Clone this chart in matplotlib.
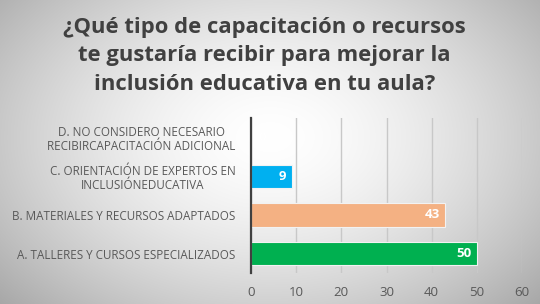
import numpy as np
import matplotlib
matplotlib.use("Agg")
import matplotlib.pyplot as plt

categories = ["A. TALLERES Y CURSOS ESPECIALIZADOS",
              "B. MATERIALES Y RECURSOS ADAPTADOS",
              "C. ORIENTACIÓN DE EXPERTOS EN\nINCLUSIÓNEDUCATIVA",
              "D. NO CONSIDERO NECESARIO\nRECIBIRCAPACITACIÓN ADICIONAL"]
values = [50, 43, 9, 0]
colors = ["#00B050", "#F4B183", "#00B0F0", "#A5A5A5"]
xticks = [0, 10, 20, 30, 40, 50, 60]
title = "¿Qué tipo de capacitación o recursos\nte gustaría recibir para mejorar la\ninclusión educativa en tu aula?"

plt.rcParams['font.family'] = ['Open Sans', 'DejaVu Sans']

fig = plt.figure(figsize=(5.4, 3.04), dpi=100)

# radial gradient background
bg = fig.add_axes([0, 0, 1, 1], zorder=-10)
h, w = 304, 540
yy, xx = np.mgrid[0:h, 0:w]
r = np.sqrt(((xx - w * 0.5) / (w * 0.62)) ** 2 + ((yy - h * 0.45) / (h * 0.75)) ** 2)
val = 1.0 - 0.30 * np.clip(r, 0, 1.2) ** 1.6
img = np.dstack([val, val, val])
bg.imshow(img, aspect='auto', extent=[0, 1, 0, 1], origin='upper')
bg.axis('off')

ax = fig.add_axes([251 / 540, 1 - 273 / 304, (522 - 251) / 540, (273 - 118) / 304])
ax.patch.set_alpha(0)
y = np.arange(len(categories))
bars = ax.barh(y, values, height=0.6, color=colors, edgecolor='#f2f2f2', linewidth=0.8, zorder=3)
ax.set_xlim(0, 60)
ax.set_ylim(-0.5, len(categories) - 0.5)
ax.set_xticks(xticks)
ax.set_xticklabels([str(t) for t in xticks], fontsize=9.5, color='#595959')
ax.set_yticks(y)
ax.set_yticklabels(categories, fontsize=8.4, color='#595959', linespacing=1.1)
for lbl in ax.get_yticklabels():
    lbl.set_multialignment('center')
ax.tick_params(axis='y', length=0, pad=11)
ax.tick_params(axis='x', length=0, pad=9)
ax.grid(axis='x', color='#c8c8c8', linewidth=1, zorder=0)
for s in ['top', 'right', 'bottom']:
    ax.spines[s].set_visible(False)
ax.spines['left'].set_color('#404040')
ax.spines['left'].set_linewidth(1.6)
ax.spines['left'].set_zorder(4)

for yi, v in zip(y, values):
    xpos = v - 1.2 if v > 3 else 2.6
    ax.text(xpos, yi, str(v), ha='right' if v > 3 else 'center', va='center',
            color='white', fontsize=9.5, fontweight='bold', zorder=5)

fig.text(0.49, 1 - 56 / 304, title, ha='center', va='center', fontsize=15.8,
         fontweight='bold', color='#404040', linespacing=1.45)

fig.savefig('out.png', dpi=100)
